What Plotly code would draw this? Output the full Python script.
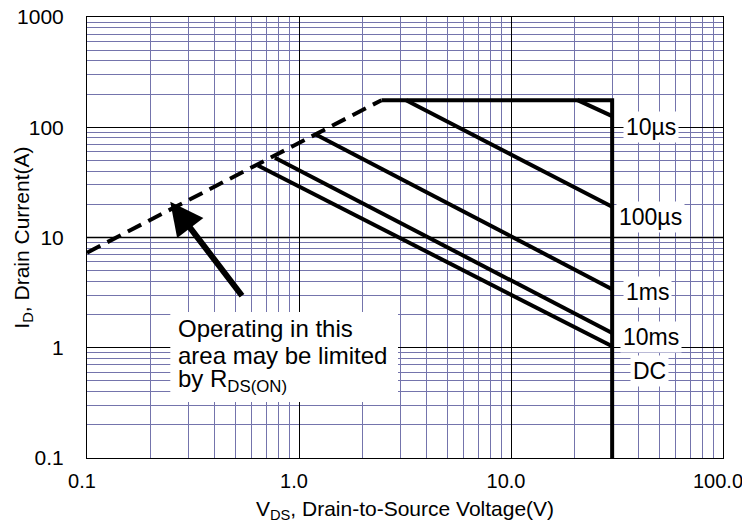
import math
import plotly.graph_objects as go

# ---------------- data ----------------
rds_v = [0.1, 2.45]          # R_DS(ON) limit (dashed)
rds_i = [7.28, 176]

limit_v = [2.45, 30, 30]     # current limit + voltage limit
limit_i = [176, 176, 0.1]

us10_v = [20.6, 30]
us10_i = [176, 126]
us100_v = [3.2, 30]
us100_i = [176, 19.0]
ms1_v = [1.2, 30]
ms1_i = [86, 3.4]
ms10_v = [0.77, 30]
ms10_i = [53, 1.36]
dc_v = [0.64, 30]
dc_i = [45, 1.03]

curve_labels = ["10µs", "100µs", "1ms", "10ms", "DC"]
label_v = [45.7, 45.7, 44.2, 45.7, 44.8]
label_i = [100, 15.4, 3.23, 1.26, 0.61]

x_tickvals = [0.1, 1, 10, 100]
x_ticktext = ["0.1", "1.0", "10.0", "100.0"]
y_tickvals = [0.1, 1, 10, 100, 1000]
y_ticktext = ["0.1", "1", "10", "100", "1000"]

FONT = "Liberation Sans, Arial, sans-serif"
LW = 4
X_RANGE = [-1, 2]
Y_RANGE = [-1, 3]

# the page body has an 8px margin on every side: size the figure to fit the window
PAGE_OFF = 8
W, H = 750 - 2 * PAGE_OFF, 531 - 2 * PAGE_OFF
PLOT_L, PLOT_R, PLOT_T, PLOT_B = 87, 723, 17, 458   # plot area in window pixels

fig = go.Figure()
fig.add_trace(go.Scatter(x=rds_v, y=rds_i, mode="lines",
                         line=dict(color="black", width=LW, dash="15px,8px")))
for xs, ys in [(limit_v, limit_i), (us10_v, us10_i), (us100_v, us100_i),
               (ms1_v, ms1_i), (ms10_v, ms10_i), (dc_v, dc_i)]:
    fig.add_trace(go.Scatter(x=xs, y=ys, mode="lines",
                             line=dict(color="black", width=LW)))

axis_common = dict(
    type="log", showline=True, linecolor="black", linewidth=1, mirror=True,
    showgrid=True, gridcolor="black", gridwidth=1,
    minor=dict(showgrid=True, gridcolor="#7474AC", gridwidth=1, dtick="D1", ticks=""),
    ticks="", zeroline=False, automargin=False, ticklabeloverflow="allow",
)

fig.update_layout(
    width=W, height=H,
    margin=dict(l=PLOT_L - PAGE_OFF, r=PAGE_OFF + W - PLOT_R,
                t=PLOT_T - PAGE_OFF, b=PAGE_OFF + H - PLOT_B),
    paper_bgcolor="white", plot_bgcolor="white",
    showlegend=False,
    xaxis=dict(**axis_common, range=X_RANGE, tickvals=x_tickvals, ticktext=x_ticktext,
               tickfont=dict(family=FONT, size=20, color="black"),
               ticklabelstandoff=5, ticklabelshift=-5,
               title=dict(text="V<sub>DS</sub>, Drain-to-Source Voltage(V)",
                          font=dict(family=FONT, size=21, color="black"), standoff=13)),
    yaxis=dict(**axis_common, range=Y_RANGE, tickvals=y_tickvals, ticktext=y_ticktext,
               tickfont=dict(family=FONT, size=21, color="black"),
               ticklabelstandoff=18),
)

# y axis title (placed as rotated text)
fig.add_annotation(x=-0.102, y=0.5, xref="paper", yref="paper",
                   text="I<sub>D</sub>, Drain Current(A)", textangle=-90,
                   showarrow=False, xanchor="center", yanchor="middle",
                   font=dict(family=FONT, size=21, color="black"))

# grey decade line at I = 10 A
y10 = (math.log10(10) - Y_RANGE[0]) / (Y_RANGE[1] - Y_RANGE[0])
fig.add_shape(type="line", xref="paper", yref="paper", x0=0, x1=1, y0=y10, y1=y10,
              line=dict(color="#808080", width=2), layer="below")

# curve labels with white background
for txt, lv, li in zip(curve_labels, label_v, label_i):
    fig.add_annotation(x=math.log10(lv), y=math.log10(li), xref="x", yref="y",
                       text=txt, showarrow=False, bgcolor="white",
                       font=dict(family=FONT, size=23, color="black"),
                       xanchor="center", yanchor="middle", borderpad=2)

# white box for the note
fig.add_shape(type="rect", xref="paper", yref="paper",
              x0=0.131, x1=0.489, y0=0.127, y1=0.331,
              fillcolor="white", line=dict(width=0), layer="above")
note_lines = ["Operating in this", "area may be limited", "by R<sub>DS(ON)</sub>"]
note_y = [0.294, 0.233, 0.176]
for txt, yy in zip(note_lines, note_y):
    fig.add_annotation(x=0.140, y=yy, xref="paper", yref="paper", text=txt,
                       showarrow=False, xanchor="left", yanchor="middle",
                       font=dict(family=FONT, size=24, color="black"))

# arrow pointing to the R_DS(ON) line
fig.add_annotation(x=math.log10(0.247), y=math.log10(21.1), xref="x", yref="y",
                   ax=math.log10(0.545), ay=math.log10(2.87), axref="x", ayref="y",
                   text="", showarrow=True, arrowhead=2, arrowsize=1.1,
                   arrowwidth=6, arrowcolor="black")

fig.write_html("out.html")
